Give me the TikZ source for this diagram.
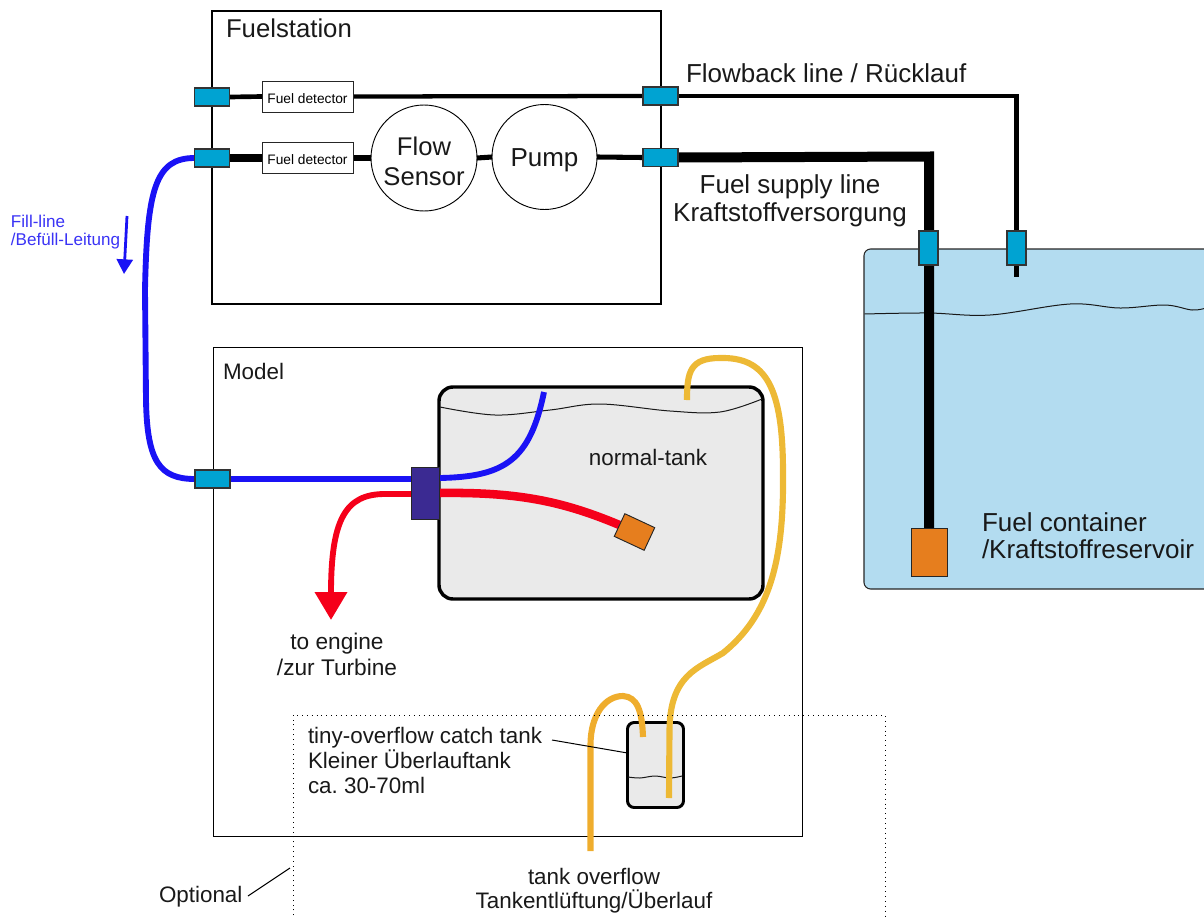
\documentclass[tikz,border=0pt]{standalone}
\usepackage{fontspec}
\setmainfont{Liberation Sans}
\usetikzlibrary{arrows.meta}
\frenchspacing
\pgfdeclarelayer{back}
\pgfdeclarelayer{pipes}
\pgfsetlayers{back,pipes,main}
\definecolor{cyanbox}{HTML}{00A3D2}
\definecolor{lakeblue}{HTML}{B3DCF0}
\definecolor{tankgrey}{HTML}{EAEAEA}
\definecolor{pumporange}{HTML}{E67E1E}
\definecolor{purplebox}{HTML}{3B2A92}
\definecolor{fillblue}{HTML}{1A12F5}
\definecolor{labelblue}{HTML}{3A33F5}
\definecolor{fuelred}{HTML}{F5001A}
\definecolor{ventyellow}{HTML}{EDB935}
\definecolor{ventorange}{HTML}{EFAD2D}
\tikzset{
  x=0.75pt,y=-0.75pt,
  wh/.style 2 args={minimum width=#1*0.75pt,minimum height=#2*0.75pt,inner sep=0pt,outer sep=0pt},
  coupler/.style={draw=black!80,line width=0.9pt,fill=cyanbox},
  detector/.style={draw=black!85,line width=0.7pt,fill=white,font=\fontsize{10.3pt}{12pt}\selectfont,wh={91}{31}},
  circ/.style={circle,draw=black,line width=0.7pt,fill=white,inner sep=0pt,outer sep=0pt},
  txt/.style={inner sep=0pt,outer sep=0pt,text=black!90,font=\fontsize{16.8pt}{20pt}\selectfont},
  txtl/.style={txt,anchor=west,align=left},
  bigl/.style={txt,anchor=west,font=\fontsize{19.5pt}{23pt}\selectfont},
  thin line/.style={draw=black,line width=0.75pt},
  pipe/.style={line cap=butt,line join=miter},
  wave/.style={draw=black!90,line width=0.75pt},
}
\begin{document}
\begin{tikzpicture}
\useasboundingbox (0,0) rectangle (1204,918);
% containers
\begin{pgfonlayer}{back}
\node[draw=black,line width=2.2pt,wh={449}{293}] (station) at (436.5,157.5) {};
\node[draw=black,line width=0.6pt,wh={589}{489}] (model) at (507.5,591.5) {};
\node[draw=black!85,line width=0.8pt,fill=lakeblue,rounded corners=5pt,wh={360}{340}] (container) at (1044,419) {};
\node[draw=black,line width=2.6pt,fill=tankgrey,rounded corners=10.5pt,wh={324}{212}] (tank) at (601,493) {};
\node[draw=black,line width=2.2pt,fill=tankgrey,rounded corners=5pt,wh={56}{85}] (catch) at (655.5,765) {};
\end{pgfonlayer}
% components
\node[coupler,wh={35}{18}] (c1) at (212,97) {};
\node[coupler,wh={35}{18}] (c2) at (212,158) {};
\node[coupler,wh={35}{18}] (c3) at (660.5,96) {};
\node[coupler,wh={35}{18}] (c4) at (660.5,157.5) {};
\node[coupler,wh={35}{18}] (c5) at (212.5,479) {};
\node[coupler,wh={19}{34}] (c6) at (928.5,248) {};
\node[coupler,wh={19}{34}] (c7) at (1016.5,248) {};
\node[detector] (d1) at (307.5,96.5) {\raisebox{-4.9pt}[0pt][0pt]{Fuel detector}};
\node[detector] (d2) at (307.5,158) {\raisebox{-5.2pt}[0pt][0pt]{Fuel detector}};
\node[circ,minimum size=106*0.75pt] (flow) at (424,158) {};
\node[circ,minimum size=105*0.75pt] (pump) at (544.5,157) {};
\node[draw=black!85,line width=0.7pt,fill=pumporange,wh={36}{48}] (pump2) at (929,552) {};
\node[draw=black!85,line width=0.7pt,fill=purplebox,wh={28}{52}] (bulk) at (425,493) {};
\node[draw=black!85,line width=0.7pt,fill=pumporange,wh={33}{25},rotate=-25] (filter) at (634.5,532) {};
% free ends
\coordinate (ret) at (1016.5,277);
\coordinate (fillend) at (544,392);
\coordinate (engine) at (331,620);
\coordinate (vent1) at (687,400);
\coordinate (vent2) at (669,798);
\coordinate (over1) at (643,737);
\coordinate (over2) at (590.5,851);
\coordinate (arrA) at (127,216);
\coordinate (arrB) at (124,274);
\coordinate (leadA) at (552,740);
\coordinate (leadB) at (248,896);
\coordinate (leadC) at (290,868);
\coordinate (dotA) at (293,925);
\coordinate (dotB) at (885,715);
\coordinate (dotC) at (885,925);
% pipes
\begin{pgfonlayer}{pipes}
\draw[wave] plot[smooth,tension=0.6] coordinates {(864.5,314) (928,313) (990,315) (1070,304) (1120,308) (1165,305) (1192,310) (1206,308)};
\draw[wave] plot[smooth,tension=0.6] coordinates {(440,407) (495,415) (550,410) (600,404) (670,411) (720,412) (762,399)};
\draw[wave] plot[smooth,tension=0.6] coordinates {(628,777) (640,778) (655,776) (670,778) (682,776)};
\draw[pipe,line width=3.5pt] (c1.east) -- (d1.west);
\draw[pipe,line width=3.2pt] (d1.east) -- (c3.west);
\draw[pipe,line width=3.5pt] (c3.east) -- (1016.5,96) -- (ret);
\draw[pipe,line width=6.2pt] (c2.east) -- (d2.west);
\draw[pipe,line width=3.8pt] (d2.east) -- (flow.west);
\draw[pipe,line width=3.8pt] (flow.east) -- (pump.west);
\draw[pipe,line width=3.8pt] (pump.east) -- (c4.west);
\draw[pipe,line width=7.5pt] (c4.east) -- (929,156.5) -- (pump2.north);
\draw[pipe,draw=fillblue,line width=4.4pt] (c2.west) .. controls (155,158) and (147,190) .. (145,290) -- (146,400) .. controls (147,462) and (160,479) .. (c5.west);
\draw[pipe,draw=fillblue,line width=4.4pt] (c5.east) -- (bulk.west |- c5.east);
\draw[pipe,draw=fillblue,line width=4.4pt] (bulk.east |- 0,478) .. controls (505,477) and (530,460) .. (fillend);
\draw[pipe,draw=fuelred,line width=6.4pt] (bulk.east |- 0,493) .. controls (515,492) and (560,500) .. (filter.west);
\draw[pipe,draw=fuelred,line width=4.4pt,-{Triangle[length=21pt,width=23.5pt]}] (bulk.west |- 0,494) -- (385,494) .. controls (345,494) and (331,520) .. (engine);
\draw[pipe,draw=ventyellow,line width=4.6pt] (vent1) .. controls (687,372) and (690,358) .. (720,358) .. controls (765,357) and (783,385) .. (783,473) .. controls (784,560) and (770,615) .. (723,653) .. controls (698,668) and (670,675) .. (669.5,730) -- (vent2);
\draw[pipe,draw=ventorange,line width=4.6pt] (over1) .. controls (642,710) and (637,697) .. (623,696) .. controls (605,696) and (590.5,715) .. (590.5,745) -- (over2);
\draw[thin line] (leadA) -- (catch.west |- 0,753);
\draw[thin line] (leadB) -- (leadC);
\draw[arrows={-{Triangle[length=11pt,width=12pt]}},draw=fillblue,line width=2.1pt] (arrA) -- (arrB);
\draw[draw=black,line width=0.75pt,dash pattern=on 0.75pt off 2.9pt] (dotA) |- (dotB) -- (dotC);
\end{pgfonlayer}
% labels
\node[bigl,font=\fontsize{19.3pt}{23pt}\selectfont] (t1) at (226,28) {Fuelstation};
\node[bigl] (t2) at (686,73) {Flowback line / Rücklauf};
\node[txt,font=\fontsize{19.5pt}{21pt}\selectfont,align=center] (t3) at (790,201) {Fuel supply line\\Kraftstoffversorgung};
\node[txtl,font=\fontsize{19.5pt}{20.5pt}\selectfont] (t4) at (982,535.5) {Fuel container\\/Kraftstoffreservoir};
\node[txtl,text=labelblue,font=\fontsize{12.8pt}{13.5pt}\selectfont] (t5) at (11,232.5) {Fill-line\\/Befüll-Leitung};
\node[txtl] (t6) at (223,371) {Model};
\node[txt] (t7) at (648,457) {normal-tank};
\node[txt,align=center,font=\fontsize{17pt}{19.5pt}\selectfont] (t8) at (337,654.5) {to engine\\/zur Turbine};
\node[txtl,font=\fontsize{16.8pt}{18.8pt}\selectfont] (t9) at (308,760.5) {tiny-overflow catch tank\\Kleiner Überlauftank\\ca. 30-70ml};
\node[txt,align=center,font=\fontsize{16.8pt}{18pt}\selectfont] (t10) at (594,891) {tank overflow\\Tankentlüftung/Überlauf};
\node[txtl] (t11) at (159,897) {Optional};
\node[txt,align=center,font=\fontsize{19.2pt}{22.5pt}\selectfont] (t12) at (424,161) {Flow\\Sensor};
\node[txt,font=\fontsize{19.5pt}{23pt}\selectfont] (t13) at (544.5,160) {Pump};
\end{tikzpicture}
\end{document}
